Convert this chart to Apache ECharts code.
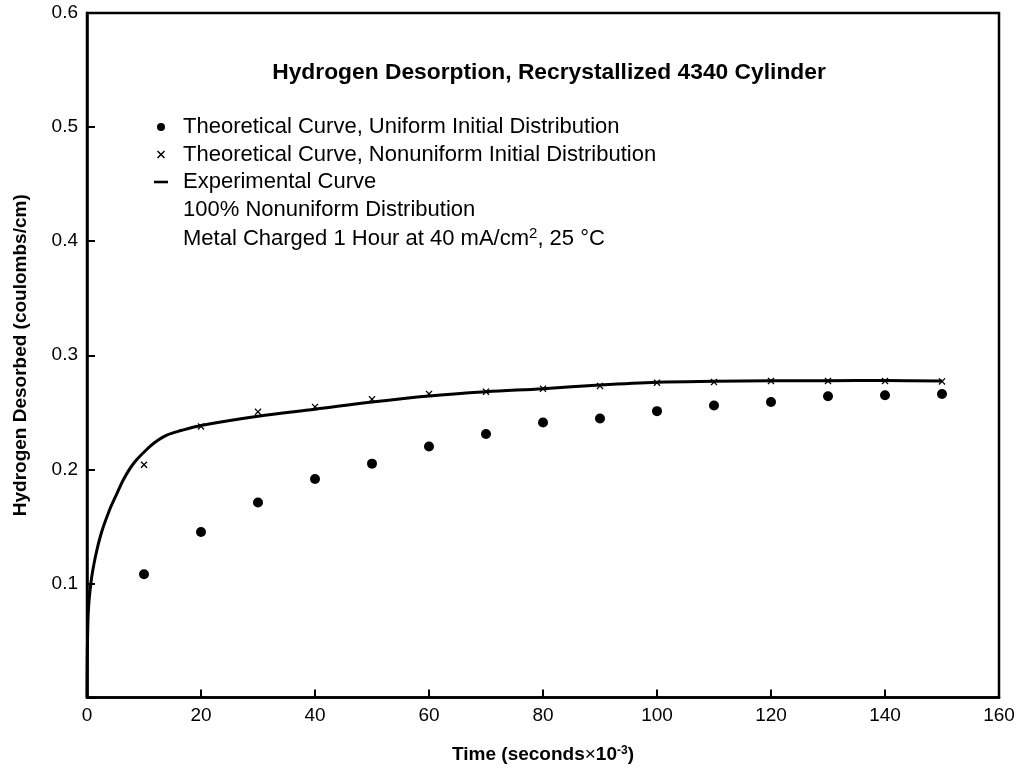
<!DOCTYPE html>
<html>
<head>
<meta charset="utf-8">
<script src="https://cdn.jsdelivr.net/npm/echarts@6/dist/echarts.min.js"></script>
<style>
html,body{margin:0;padding:0;background:#fff;}
#chart{width:1018px;height:769px;}
</style>
</head>
<body>
<div id="chart"></div>
<script>
const timeTheory = [10,20,30,40,50,60,70,80,90,100,110,120,130,140,150];
const uniformValues = [0.108,0.145,0.171,0.1915,0.205,0.220,0.231,0.241,0.2445,0.251,0.256,0.259,0.264,0.265,0.266];
const nonuniformValues = [0.204,0.2376,0.2504,0.2547,0.2614,0.2661,0.2681,0.2707,0.2731,0.2760,0.2765,0.2774,0.2774,0.2774,0.2771];
const expTime = [0,0.2,0.7,1.5,2.5,4,5,6.5,8.3,10.6,12,14,16.5,20,30,40,50,60,70,80,90,100,110,120,130,140,150];
const expValues = [0,0.072,0.101,0.124,0.144,0.165,0.176,0.192,0.206,0.218,0.224,0.23,0.234,0.2385,0.2466,0.2527,0.259,0.2643,0.268,0.2707,0.274,0.2764,0.2772,0.2776,0.2777,0.2778,0.2775];
const xTicks = [0,20,40,60,80,100,120,140,160];
const yTicks = [0.1,0.2,0.3,0.4,0.5,0.6];
const seriesNames = ['Theoretical Curve, Uniform Initial Distribution','Theoretical Curve, Nonuniform Initial Distribution','Experimental Curve'];
const noteLine1 = '100% Nonuniform Distribution';
const noteLine2 = 'Metal Charged 1 Hour at 40 mA/cm{s|2}, 25 °C';
const titleText = 'Hydrogen Desorption, Recrystallized 4340 Cylinder';
const xName = '{b|Time (seconds}{x|×}{b|10}{s|-3}{b|)}';
const yName = 'Hydrogen Desorbed (coulombs/cm)';

const crossPath = 'path://M0,1.3L1.3,0L5,3.7L8.7,0L10,1.3L6.3,5L10,8.7L8.7,10L5,6.3L1.3,10L0,8.7L3.7,5Z';
const font = 'Liberation Sans, Arial, Helvetica, sans-serif';

const chart = echarts.init(document.getElementById('chart'));
chart.setOption({
  animation:false,
  backgroundColor:'#fff',
  title:{text:titleText,left:549,top:61,textAlign:'center',padding:0,
    textStyle:{fontFamily:font,fontWeight:'bold',fontSize:22.8,color:'#000'}},
  legend:{orient:'vertical',left:154,top:116,padding:0,itemGap:5.5,itemWidth:14,itemHeight:8,
    symbolKeepAspect:true,
    textStyle:{fontFamily:font,fontSize:22,lineHeight:22,color:'#000',padding:[0,0,0,10]},
    data:[
      {name:seriesNames[0],icon:'circle',itemStyle:{color:'#000'}},
      {name:seriesNames[1],icon:crossPath,itemStyle:{color:'#000'}},
      {name:seriesNames[2],icon:'path://M0,0L14,0L14,2.6L0,2.6Z',itemStyle:{color:'#000'}}
    ]},
  graphic:[
    {type:'text',left:183,top:199,style:{text:noteLine1,font:'22px '+font,fill:'#000'}},
    {type:'text',left:183,top:226.5,
      style:{text:noteLine2,font:'22px '+font,fill:'#000',
        rich:{s:{fontSize:15,fontFamily:font,fill:'#000',verticalAlign:'top',padding:[0,0,10,0]}}}}
  ],
  grid:{left:87,right:19,top:13,bottom:69,show:true,borderColor:'#000',borderWidth:2.5},
  xAxis:{type:'value',min:0,max:160,interval:20,
    name:xName,nameLocation:'middle',nameGap:47,
    nameTextStyle:{fontFamily:font,color:'#000',
      rich:{b:{fontFamily:font,fontWeight:'bold',fontSize:19,color:'#000'},
            x:{fontFamily:font,fontSize:19,color:'#000'},
            s:{fontFamily:font,fontWeight:'bold',fontSize:12,color:'#000',verticalAlign:'top',padding:[0,0,8,0]}}},
    axisLine:{lineStyle:{color:'#000',width:2.5}},
    axisTick:{inside:true,length:8,lineStyle:{color:'#000',width:2}},
    axisLabel:{fontFamily:font,fontSize:19,color:'#000',margin:9,
      formatter:v=>xTicks.includes(v)?String(v):''},
    splitLine:{show:false}},
  yAxis:{type:'value',min:0,max:0.6,interval:0.1,
    name:yName,nameLocation:'middle',nameGap:57,
    nameTextStyle:{fontFamily:font,fontWeight:'bold',fontSize:19,color:'#000'},
    axisLine:{lineStyle:{color:'#000',width:2.5}},
    axisTick:{inside:true,length:8,lineStyle:{color:'#000',width:2}},
    axisLabel:{fontFamily:font,fontSize:19,color:'#000',margin:9,
      formatter:v=>{const r=Math.round(v*10)/10;return yTicks.includes(r)?r.toFixed(1):'';}},
    splitLine:{show:false}},
  series:[
    {name:seriesNames[0],type:'scatter',symbol:'circle',symbolSize:10,
      itemStyle:{color:'#000',opacity:1},data:timeTheory.map((t,i)=>[t,uniformValues[i]]),z:3},
    {name:seriesNames[1],type:'scatter',symbol:crossPath,symbolSize:7,
      itemStyle:{color:'#000',opacity:1},data:timeTheory.map((t,i)=>[t,nonuniformValues[i]]),z:4},
    {name:seriesNames[2],type:'line',showSymbol:false,smooth:0.35,
      lineStyle:{color:'#000',width:3},itemStyle:{color:'#000'},
      data:expTime.map((t,i)=>[t,expValues[i]]),z:2}
  ]
});
</script>
</body>
</html>
